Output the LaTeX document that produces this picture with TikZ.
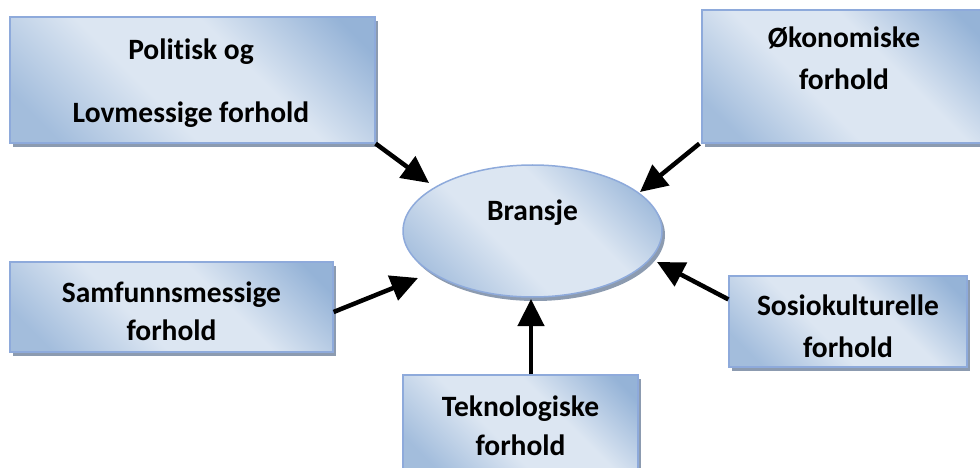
\documentclass[tikz,border=0pt]{standalone}
\usepackage{fontspec}
\setmainfont[RawFeature=-liga]{Carlito}
\usetikzlibrary{arrows.meta,shapes.geometric,shadows}
\definecolor{boxdark}{HTML}{95B3D7}
\definecolor{boxlight}{HTML}{DCE6F2}
\definecolor{boxedge}{HTML}{8EAADB}
\definecolor{shadowc}{HTML}{8C9BB0}
\pgfdeclarehorizontalshading{officeshade}{100bp}{color(0bp)=(boxdark!80!boxlight); color(22bp)=(boxdark!80!boxlight); color(42bp)=(boxlight); color(60bp)=(boxlight); color(80bp)=(boxdark); color(100bp)=(boxdark)}
\begin{document}
\begin{tikzpicture}[x=1pt,y=-1pt,
  fbox/.style={rectangle, draw=boxedge, line width=1.2pt, inner sep=0pt,
    shading=officeshade, shading angle=45,
    drop shadow={shadow xshift=3pt, shadow yshift=-4pt, fill=shadowc, opacity=1}},
  fell/.style={ellipse, draw=boxedge, line width=1.5pt, inner sep=0pt,
    shading=officeshade, shading angle=45,
    drop shadow={shadow xshift=3pt, shadow yshift=-4pt, fill=shadowc, opacity=1}},
  txt/.style={font=\fontsize{29.5}{34}\selectfont\bfseries, anchor=base, inner sep=0pt},
  arr/.style={line width=4.5pt, -{Triangle[length=27pt,width=26pt]}}]
\useasboundingbox (0,0) rectangle (980,468);

\node[fbox, minimum width=365pt, minimum height=126pt] (pol) at (192.5,80) {};
\node[fbox, minimum width=284pt, minimum height=133pt] (oko) at (844,76.5) {};
\node[fbox, minimum width=323pt, minimum height=90pt] (sam) at (171.5,307) {};
\node[fbox, minimum width=238pt, minimum height=91pt] (sos) at (848,321.5) {};
\node[fbox, minimum width=235pt, minimum height=95pt] (tek) at (520.5,422.5) {};
\node[fell, minimum width=259pt, minimum height=132pt] (br) at (532.5,231) {};

\node[txt] (pol1) at (191,60) {Politisk og};
\node[txt] (pol2) at (191,123) {Lovmessige forhold};
\node[txt] (oko1) at (844,48) {Økonomiske};
\node[txt] (oko2) at (844,90) {forhold};
\node[txt] (sam1) at (171.5,302) {Samfunnsmessige};
\node[txt] (sam2) at (171.5,340) {forhold};
\node[txt] (sos1) at (848,315) {Sosiokulturelle};
\node[txt] (sos2) at (848,357) {forhold};
\node[txt] (tek1) at (520.5,416) {Teknologiske};
\node[txt] (tek2) at (520.5,455) {forhold};
\node[txt] (brt) at (532.5,220) {Bransje};

\coordinate (tip1) at (429,183);
\coordinate (tip2) at (640,192);
\coordinate (tip3) at (657,262);
\coordinate (tip4) at (418,278);
\coordinate (tip5) at (531,299);

\draw[arr] (pol.south east) -- (tip1);
\draw[arr] ([xshift=-2pt]oko.south west) -- (tip2);
\draw[arr] ([yshift=-24pt]sos.north west) -- (tip3);
\draw[arr] ([yshift=-5pt]sam.east) -- (tip4);
\draw[arr] ([xshift=10.5pt]tek.north) -- (tip5);
\end{tikzpicture}
\end{document}
